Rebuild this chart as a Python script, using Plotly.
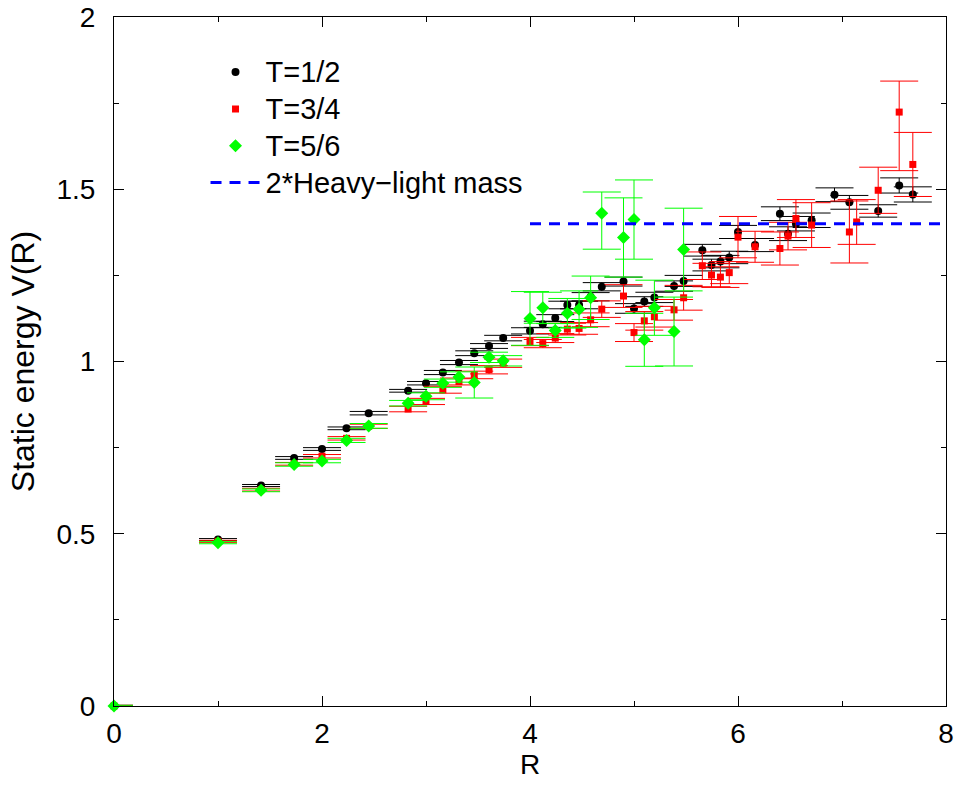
import plotly.graph_objects as go

# ---- data ----
R_T12 = [0, 1.0, 1.414, 1.732, 2.0, 2.236, 2.449, 2.828, 3.0, 3.162, 3.317, 3.464, 3.606, 3.742,
         4.0, 4.123, 4.243, 4.359, 4.472, 4.583, 4.690, 4.899, 5.0, 5.099, 5.196, 5.385, 5.477,
         5.657, 5.745, 5.831, 5.916, 6.0, 6.164, 6.403, 6.481, 6.557, 6.708, 6.928, 7.071, 7.348,
         7.550, 7.681]
V_T12 = [0, 0.483, 0.640, 0.720, 0.746, 0.806, 0.850, 0.915, 0.937, 0.968, 0.997, 1.024, 1.045, 1.068,
         1.089, 1.108, 1.126, 1.164, 1.164, 1.188, 1.217, 1.232, 1.154, 1.174, 1.186, 1.219, 1.234,
         1.323, 1.280, 1.290, 1.302, 1.376, 1.338, 1.429, 1.371, 1.400, 1.410, 1.484, 1.462, 1.437,
         1.511, 1.485]
E_T12 = [0.002, 0.003, 0.003, 0.004, 0.004, 0.004, 0.005, 0.004, 0.005, 0.006, 0.006, 0.007, 0.007, 0.008,
         0.009, 0.009, 0.010, 0.011, 0.011, 0.012, 0.012, 0.013, 0.014, 0.014, 0.015, 0.015, 0.016,
         0.017, 0.017, 0.018, 0.018, 0.019, 0.019, 0.020, 0.020, 0.021, 0.021, 0.020, 0.020, 0.018,
         0.022, 0.022]

R_T34 = [0, 1.0, 1.414, 1.732, 2.0, 2.236, 2.449, 2.828, 3.0, 3.162, 3.317, 3.464, 3.606, 3.742,
         4.0, 4.123, 4.243, 4.359, 4.472, 4.583, 4.690, 4.899, 5.0, 5.099, 5.196, 5.385, 5.477,
         5.657, 5.745, 5.831, 5.916, 6.0, 6.164, 6.403, 6.481, 6.557, 6.708, 7.071, 7.141, 7.348,
         7.550, 7.681]
V_T34 = [0, 0.478, 0.628, 0.703, 0.725, 0.777, 0.812, 0.862, 0.884, 0.918, 0.942, 0.961, 0.976, 0.995,
         1.058, 1.052, 1.068, 1.094, 1.096, 1.121, 1.152, 1.190, 1.084, 1.118, 1.130, 1.150, 1.185,
         1.278, 1.251, 1.245, 1.258, 1.361, 1.333, 1.328, 1.364, 1.415, 1.396, 1.376, 1.405, 1.497,
         1.724, 1.572]
E_T34_PLUS = [0.002, 0.003, 0.004, 0.004, 0.005, 0.005, 0.006, 0.008, 0.009, 0.010, 0.010, 0.011, 0.012, 0.012,
              0.012, 0.012, 0.013, 0.017, 0.017, 0.020, 0.024, 0.033, 0.026, 0.027, 0.030, 0.030, 0.036,
              0.040, 0.034, 0.030, 0.032, 0.060, 0.045, 0.048, 0.040, 0.055, 0.065, 0.090, 0.065, 0.067,
              0.090, 0.093]
E_T34_MINUS = [0.002, 0.003, 0.004, 0.004, 0.005, 0.005, 0.006, 0.008, 0.009, 0.010, 0.010, 0.011, 0.012, 0.012,
               0.012, 0.012, 0.013, 0.017, 0.017, 0.020, 0.024, 0.033, 0.026, 0.027, 0.030, 0.030, 0.036,
               0.040, 0.034, 0.030, 0.032, 0.060, 0.045, 0.048, 0.040, 0.055, 0.065, 0.090, 0.065, 0.067,
               0.170, 0.093]

R_T56 = [0, 1.0, 1.414, 1.732, 2.0, 2.236, 2.449, 2.828, 3.0, 3.162, 3.317, 3.464, 3.606, 3.742,
         4.0, 4.123, 4.243, 4.359, 4.472, 4.583, 4.690, 4.899, 5.0, 5.099, 5.196, 5.385, 5.477]
V_T56 = [0, 0.474, 0.626, 0.701, 0.711, 0.771, 0.813, 0.879, 0.899, 0.937, 0.955, 0.939, 1.012, 1.002,
         1.125, 1.156, 1.090, 1.140, 1.152, 1.185, 1.430, 1.360, 1.412, 1.063, 1.156, 1.087, 1.325]
E_T56_PLUS = [0.002, 0.003, 0.004, 0.005, 0.005, 0.006, 0.007, 0.008, 0.010, 0.012, 0.015, 0.045, 0.015, 0.015,
              0.078, 0.045, 0.020, 0.043, 0.053, 0.063, 0.062, 0.115, 0.115, 0.077, 0.080, 0.100, 0.120]
E_T56_MINUS = [0.002, 0.003, 0.004, 0.005, 0.005, 0.006, 0.007, 0.008, 0.010, 0.012, 0.015, 0.045, 0.015, 0.015,
               0.078, 0.045, 0.020, 0.043, 0.053, 0.063, 0.104, 0.115, 0.115, 0.077, 0.080, 0.100, 0.120]

HL_R = [4.0, 8.0]
HL_V = [1.40, 1.40]

X_TICKS = [0, 2, 4, 6, 8]
Y_TICKS = [0, 0.5, 1, 1.5, 2]
Y_TICKTEXT = ["0", "0.5", "1", "1.5", "2"]

FONT = "Liberation Sans, Arial, Helvetica, sans-serif"
LEGEND_TEXT_SIZE = 29

fig = go.Figure()

def legend_label(s):
    return '<span style="font-size:%dpx">%s</span>' % (LEGEND_TEXT_SIZE, s)

def add_series(R, V, ep, em, name, color, symbol, size):
    fig.add_trace(go.Scatter(
        x=R, y=V, mode="markers", name=legend_label(name), cliponaxis=False,
        marker=dict(color=color, symbol=symbol, size=size, line=dict(width=0)),
        error_y=dict(type="data", symmetric=False, array=ep, arrayminus=em,
                     color=color, thickness=1, width=19, visible=True),
    ))

add_series(R_T12, V_T12, E_T12, E_T12, "T=1/2", "#000000", "circle", 8)
add_series(R_T34, V_T34, E_T34_PLUS, E_T34_MINUS, "T=3/4", "#ff0000", "square", 7)
add_series(R_T56, V_T56, E_T56_PLUS, E_T56_MINUS, "T=5/6", "#00ff00", "diamond", 10)

fig.add_trace(go.Scatter(
    x=HL_R, y=HL_V, mode="lines", name=legend_label("2*Heavy\u2212light mass"),
    line=dict(color="#0000ff", width=3, dash="11px,8px"),
))

axis_common = dict(
    showline=True, linecolor="black", linewidth=1, mirror="ticks",
    ticks="inside", ticklen=10, tickwidth=1, tickcolor="black",
    showgrid=False, zeroline=False, ticklabeloverflow="allow", automargin=False,
    tickfont=dict(family=FONT, size=28, color="black"),
)

fig.update_xaxes(range=[0, 8], tickvals=X_TICKS, ticktext=[str(v) for v in X_TICKS],
                 minor=dict(ticks="inside", ticklen=5, tickwidth=1, tickcolor="black", dtick=1, tick0=0),
                 ticklabelstandoff=2,
                 title=dict(text="R", font=dict(family=FONT, size=28, color="black"), standoff=4),
                 **axis_common)
fig.update_yaxes(range=[0, 2], tickvals=Y_TICKS, ticktext=Y_TICKTEXT,
                 minor=dict(ticks="inside", ticklen=5, tickwidth=1, tickcolor="black", dtick=0.25, tick0=0),
                 ticklabelstandoff=12,
                 title=dict(text="Static energy V(R)", font=dict(family=FONT, size=32, color="black"), standoff=12),
                 **axis_common)

fig.update_layout(
    width=956, height=786,
    margin=dict(l=114, r=10, t=17, b=80, pad=0, autoexpand=False),
    plot_bgcolor="white", paper_bgcolor="white",
    showlegend=True,
    legend=dict(x=0.11, y=0.954, xanchor="left", yanchor="top",
                font=dict(family=FONT, size=26, color="black"),
                bgcolor="rgba(0,0,0,0)", borderwidth=0, itemwidth=50,
                tracegroupgap=0),
)

fig.write_html("out.html")
